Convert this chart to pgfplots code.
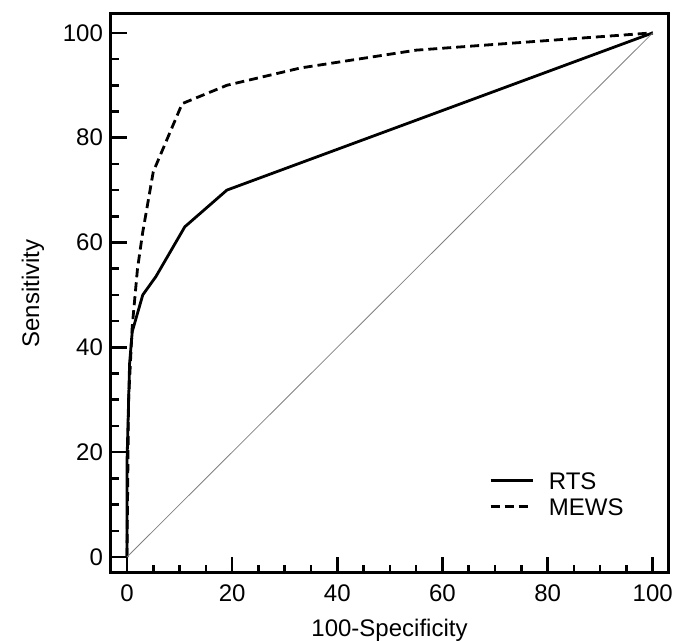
\documentclass[border=0pt]{standalone}
\usepackage{fontspec}
\setmainfont{Liberation Sans}
\usepackage{pgfplots}
\pgfplotsset{compat=1.18}
\usetikzlibrary{calc}

\begin{document}
\begin{tikzpicture}
\begin{axis}[
  scale only axis, width=278.5pt, height=279.5pt,
  xmin=-3.04, xmax=102.9, ymin=-3.05, ymax=103.6,
  xtick={0,20,...,100}, ytick={0,20,...,100},
  minor tick num=3, tick pos=left,
  tick align=inside, major tick length=8pt, minor tick length=4pt,
  every tick/.style={black, line width=1.3pt},
  axis line style={line width=1.5pt},
  tick label style={font=\fontsize{12}{14}\selectfont},
  xticklabel style={yshift=-2.5pt},
  yticklabel style={xshift=-0.5pt},
  /pgf/number format/assume math mode=true,
  xlabel={100-Specificity}, ylabel={Sensitivity},
  label style={font=\fontsize{12}{14}\selectfont},
  xlabel style={at={(axis description cs:0.5,-0.102)}, anchor=center},
  ylabel style={at={(axis description cs:-0.14,0.5)}, anchor=center},
  legend style={at={(axis cs:68.8,16.7)}, anchor=north west, draw=none, fill=none,
    inner sep=0pt, row sep=2.5pt, column sep=6.5pt,
    nodes={text height=8.6pt, text depth=0pt, inner sep=1pt},
    font=\fontsize{12}{14}\selectfont},
  legend cell align=left,
  legend image code/.code={\draw[#1] (0pt,0pt) -- (21pt,0pt);},
]
\addplot[black, line width=1.4pt] coordinates {
  (0,0) (0,18) (0.5,37) (1,43) (3,50) (5.5,53.5) (11,63) (19,70) (100,100)};
\addlegendentry{RTS}
\addplot[black, line width=1.4pt, dash pattern=on 4.5pt off 2.5pt] coordinates {
  (0,0) (0.3,30) (1,44) (2,55) (3,62) (5,73.5) (10.5,86.5) (19,90) (33,93.3) (55,96.7) (100,100)};
\addlegendentry{MEWS}
\addplot[gray, line width=0.4pt, forget plot] coordinates {(0,0) (100,100)};
\end{axis}
\pgfresetboundingbox
\path[use as bounding box] ($(current axis.south west)+(-55.5pt,-34pt)$) rectangle ($(current axis.north east)+(3pt,7pt)$);
\end{tikzpicture}
\end{document}
